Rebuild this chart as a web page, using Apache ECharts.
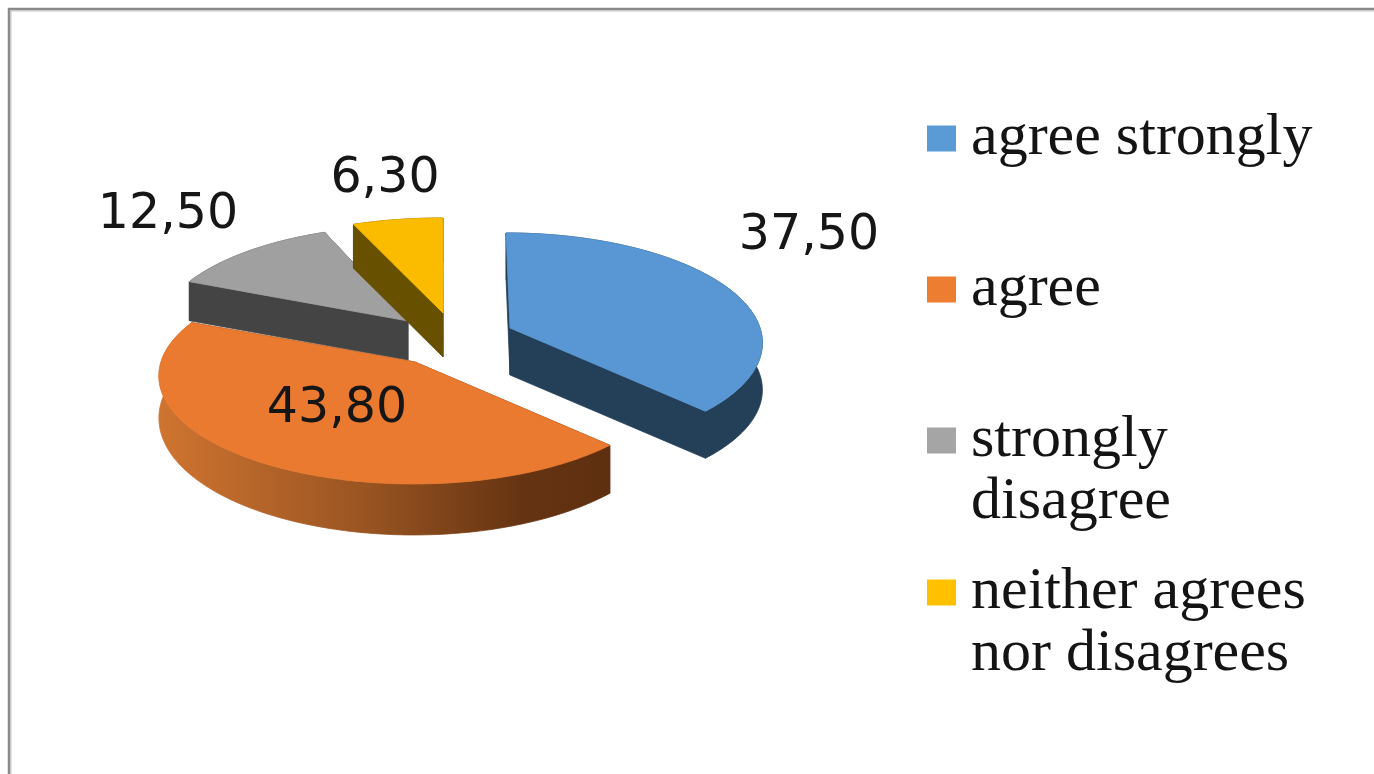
<!DOCTYPE html>
<html>
<head>
<meta charset="utf-8">
<style>html,body{margin:0;padding:0;background:#fff}#c{width:1374px;height:774px}</style>
<script src="https://cdn.jsdelivr.net/npm/echarts@6/dist/echarts.min.js"></script>
</head>
<body>
<div id="c"></div>
<script>
// Data
const categories = ['agree strongly', 'agree', 'strongly disagree', 'neither agrees nor disagrees'];
const values = [37.5, 43.8, 12.5, 6.3];
const legendLines = [['agree strongly'], ['agree'], ['strongly', 'disagree'], ['neither agrees', 'nor disagrees']];

// Styling and 3D pie layout
const topColors = ['#5897D3', '#E97A30', '#A0A0A0', '#FBBC00'];
const legendColors = ['#5B9BD5', '#ED7D31', '#A5A5A5', '#FFC000'];
const wallColors = [
  '#243F58',
  { type: 'linear', x: 0, y: 0, x2: 1, y2: 0, colorStops: [
    { offset: 0, color: '#CF7430' }, { offset: 0.45, color: '#9A5522' },
    { offset: 0.8, color: '#663412' }, { offset: 1, color: '#5E2F10' } ] },
  '#444444',
  '#675000'
];
const pie = { cx: 440, cy: 330, tilt: 108.5, persp: 0.124, skew: 0.45 };
const explode = [[70, -2], [-25, 32], [-32, -9], [3, -17]];
const depths = [47, 41, 39, 44];
const depthSlopes = [0, 10, 0, 0];
const radii = [250, 254, 249, 262];
const labelOffsets = [[299, -92], [-78, 47], [-240, -106], [-58, -134]];
const legendTops = [136, 287, 438, 590];
const drawOrder = [3, 4, 1, 2];

const total = values.reduce((a, b) => a + b, 0);

function project(i, theta, r) {
  const u = Math.sin(theta) * r, v = -Math.cos(theta) * r;
  const s = 1 + pie.persp * v;
  const ax = pie.cx + explode[i][0], ay = pie.cy + explode[i][1];
  const d = depths[i] + depthSlopes[i] * v;
  return {
    top: [ax + radii[i] * u * s + (ax - pie.cx) * (s - 1) * pie.skew, ay + pie.tilt * v * s],
    d
  };
}
const down = p => [p.top[0], p.top[1] + p.d];

function renderSlice(params, api) {
  const i = params.seriesIndex;
  const value = api.value(0);
  let before = 0;
  for (let k = 0; k < i; k++) before += values[k];
  const a0 = before / total * Math.PI * 2;
  const a1 = (before + value) / total * Math.PI * 2;
  const n = Math.max(8, Math.ceil((a1 - a0) * 60));
  const arc = [];
  for (let k = 0; k <= n; k++) arc.push(project(i, a0 + (a1 - a0) * k / n, 1));
  const apex = project(i, 0, 0);
  const wall = wallColors[i];
  const plain = typeof wall === 'string' ? wall : '#5E2F10';
  const poly = (points, fill, stroke) => ({
    type: 'polygon', shape: { points },
    style: { fill, stroke: stroke || fill, lineWidth: 0.8 }
  });
  const children = [
    poly([apex.top, arc[0].top, down(arc[0]), down(apex)], plain),
    poly([apex.top, arc[n].top, down(arc[n]), down(apex)], plain),
    poly(arc.map(p => p.top).concat(arc.slice().reverse().map(down)), wall),
    poly([apex.top].concat(arc.map(p => p.top)), topColors[i]),
    {
      type: 'text',
      style: {
        text: value.toFixed(2).replace('.', ','),
        x: apex.top[0] + labelOffsets[i][0],
        y: apex.top[1] + labelOffsets[i][1],
        fill: '#161616',
        font: '49px "DejaVu Sans"',
        align: 'center',
        verticalAlign: 'middle'
      }
    }
  ];
  return { type: 'group', children };
}

const chart = echarts.init(document.getElementById('c'), null, { renderer: 'canvas' });
chart.setOption({
  backgroundColor: '#ffffff',
  animation: false,
  graphic: [
    { type: 'polyline', silent: true, shape: { points: [[11, 774], [11, 11], [1374, 11]] }, style: { stroke: '#C4C4C4', lineWidth: 1, fill: null } },
    { type: 'polyline', silent: true, shape: { points: [[9, 774], [9, 9], [1374, 9]] }, style: { stroke: '#8A8A8A', lineWidth: 2.5, fill: null } }
  ],
  legend: categories.map((name, i) => ({
    data: [{ name, itemStyle: { color: legendColors[i] } }],
    orient: 'vertical',
    left: 927,
    top: legendTops[i] - 31 * (legendLines[i].length > 1 ? 3 : 1),
    padding: 0,
    itemWidth: 29,
    itemHeight: 26,
    selectedMode: false,
    icon: 'rect',
    formatter: () => (legendLines[i].length > 1 ? '\n' : '') + legendLines[i].join('\n'),
    textStyle: {
      fontFamily: '"Liberation Serif"',
      fontSize: 60,
      lineHeight: 62,
      color: '#141414',
      padding: [5, 0, 0, 10]
    }
  })),
  series: categories.map((name, i) => ({
    type: 'custom',
    name,
    coordinateSystem: 'none',
    silent: true,
    z: 2 + drawOrder[i],
    itemStyle: { color: topColors[i] },
    renderItem: renderSlice,
    data: [[values[i]]]
  }))
});
</script>
</body>
</html>
